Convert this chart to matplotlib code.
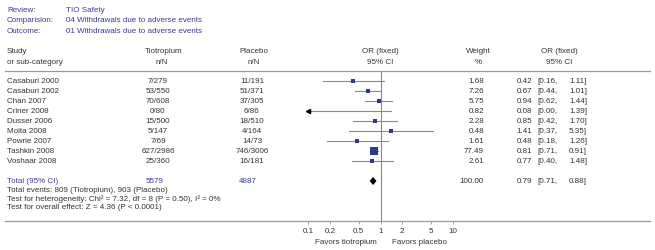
import numpy as np
import matplotlib
matplotlib.use("Agg")
import matplotlib.pyplot as plt

plt.rcParams.update({"font.family": ["Liberation Sans", "DejaVu Sans"], "font.size": 5.8})

# data
studies = ["Casaburi 2000", "Casaburi 2002", "Chan 2007", "Criner 2008", "Dusser 2006",
           "Moita 2008", "Powrie 2007", "Tashkin 2008", "Voshaar 2008"]
tio_nN = ["7/279", "53/550", "70/608", "0/80", "15/500", "5/147", "7/69", "627/2986", "25/360"]
pla_nN = ["11/191", "51/371", "37/305", "6/86", "18/510", "4/164", "14/73", "746/3006", "16/181"]
weight = [1.68, 7.26, 5.75, 0.82, 2.28, 0.48, 1.61, 77.49, 2.61]
or_val = [0.42, 0.67, 0.94, 0.08, 0.85, 1.41, 0.48, 0.81, 0.77]
ci_lo = [0.16, 0.44, 0.62, 0.00, 0.42, 0.37, 0.18, 0.71, 0.40]
ci_hi = [1.11, 1.01, 1.44, 1.39, 1.70, 5.35, 1.26, 0.91, 1.48]
tot_n = ["5579", "4887"]
tot_weight = 100.00
tot_or, tot_lo, tot_hi = 0.79, 0.71, 0.88
ticks = [0.1, 0.2, 0.5, 1, 2, 5, 10]
tick_labels = ["0.1", "0.2", "0.5", "1", "2", "5", "10"]

W, H = 655, 251
BLUE = "#3b3b92"
TXT = "#333333"
GREY = "#8a8a8a"
NAVY = "#2c3a88"

fig = plt.figure(figsize=(W / 100, H / 100), dpi=100)
tab = fig.add_axes([0, 0, 1, 1])
tab.set_xlim(0, W)
tab.set_ylim(H, 0)
tab.axis("off")

def row_y(i):
    return 81.5 + 10 * i

def or_cols(y, o, lo, hi):
    tab.text(532, y, f"{o:.2f}", color=TXT, va="center", ha="right")
    tab.text(537, y, f"[{lo:.2f},", color=TXT, va="center")
    tab.text(587, y, f"{hi:.2f}]", color=TXT, va="center", ha="right")

# header block
for y, lab, val in [(10, "Review:", "TIO Safety"),
                    (21, "Comparision:", "04 Withdrawals due to adverse events"),
                    (31.5, "Outcome:", "01 Withdrawals due to adverse events")]:
    tab.text(7, y, lab, color=BLUE, va="center")
    tab.text(66, y, val, color=BLUE, va="center")

tab.text(7, 51.5, "Study", color=TXT, va="center")
tab.text(7, 62, "or sub-category", color=TXT, va="center")
tab.text(164, 51.5, "Tiotropium", color=TXT, va="center", ha="center")
tab.text(162, 62, "n/N", color=TXT, va="center", ha="center")
tab.text(254, 51.5, "Placebo", color=TXT, va="center", ha="center")
tab.text(254, 62, "n/N", color=TXT, va="center", ha="center")
tab.text(380, 51.5, "OR (fixed)", color=TXT, va="center", ha="center")
tab.text(380, 62, "95% CI", color=TXT, va="center", ha="center")
tab.text(478, 51.5, "Weight", color=TXT, va="center", ha="center")
tab.text(478, 62, "%", color=TXT, va="center", ha="center")
tab.text(559, 51.5, "OR (fixed)", color=TXT, va="center", ha="center")
tab.text(559, 62, "95% CI", color=TXT, va="center", ha="center")

tab.plot([5, 650], [71.5, 71.5], color="#999999", lw=0.9)
tab.plot([5, 650], [222, 222], color="#999999", lw=0.9)

for i, s in enumerate(studies):
    y = row_y(i)
    tab.text(7, y, s, color=TXT, va="center")
    tab.text(158, y, tio_nN[i], color=TXT, va="center", ha="center")
    tab.text(252, y, pla_nN[i], color=TXT, va="center", ha="center")
    tab.text(484, y, f"{weight[i]:.2f}", color=TXT, va="center", ha="right")
    or_cols(y, or_val[i], ci_lo[i], ci_hi[i])

ty = 182
tab.text(7, ty, "Total (95% CI)", color=BLUE, va="center")
tab.text(155, ty, tot_n[0], color=BLUE, va="center", ha="center")
tab.text(248, ty, tot_n[1], color=BLUE, va="center", ha="center")
tab.text(484, ty, f"{tot_weight:.2f}", color=TXT, va="center", ha="right")
or_cols(ty, tot_or, tot_lo, tot_hi)
tab.text(7, 191, "Total events: 809 (Tiotropium), 903 (Placebo)", color=TXT, va="center")
tab.text(7, 199.5, "Test for heterogeneity: Chi\u00b2 = 7.32, df = 8 (P = 0.50), I\u00b2 = 0%", color=TXT, va="center")
tab.text(7, 208, "Test for overall effect: Z = 4.36 (P < 0.0001)", color=TXT, va="center")

tab.text(377, 243, "Favors tiotropium", color=TXT, va="center", ha="right")
tab.text(392, 243, "Favors placebo", color=TXT, va="center", ha="left")

# forest axes: 0.1 -> x=308, 10 -> x=453 ; top 71.5, bottom 222
fa = fig.add_axes([308 / W, (H - 222) / H, 145 / W, (222 - 71.5) / H])
fa.set_xscale("log")
fa.set_xlim(0.1, 10)
y_top = -(81.5 - 71.5) / 10
y_bot = (222 - 81.5) / 10
fa.set_ylim(y_bot, y_top)
fa.patch.set_alpha(0)
for sp in fa.spines.values():
    sp.set_visible(False)
fa.set_yticks([])
fa.set_xticks(ticks)
fa.set_xticklabels(tick_labels, color=TXT)
fa.minorticks_off()
fa.tick_params(axis="x", length=2, width=0.6, color="#999999", pad=2, labelsize=5.8)
fa.axvline(1, color=GREY, lw=0.8)

for i in range(len(studies)):
    lo = ci_lo[i] if ci_lo[i] > 0.1 else 0.1
    fa.plot([lo, ci_hi[i]], [i, i], color=GREY, lw=0.8)
    if ci_lo[i] <= 0.1:
        fa.plot([0.1], [i], marker="<", ms=3, color="black", clip_on=False)
    if or_val[i] >= 0.1:
        side = 3.3 + 0.55 * np.sqrt(weight[i])
        fa.plot([or_val[i]], [i], marker="s", ms=side * 0.72, color=NAVY, mec=NAVY, mew=0)

tr = 10.05
dh = 0.4
fa.fill([tot_lo, tot_or, tot_hi, tot_or], [tr, tr - dh, tr, tr + dh], color="black", lw=0)

fig.savefig("out.png", dpi=100)
